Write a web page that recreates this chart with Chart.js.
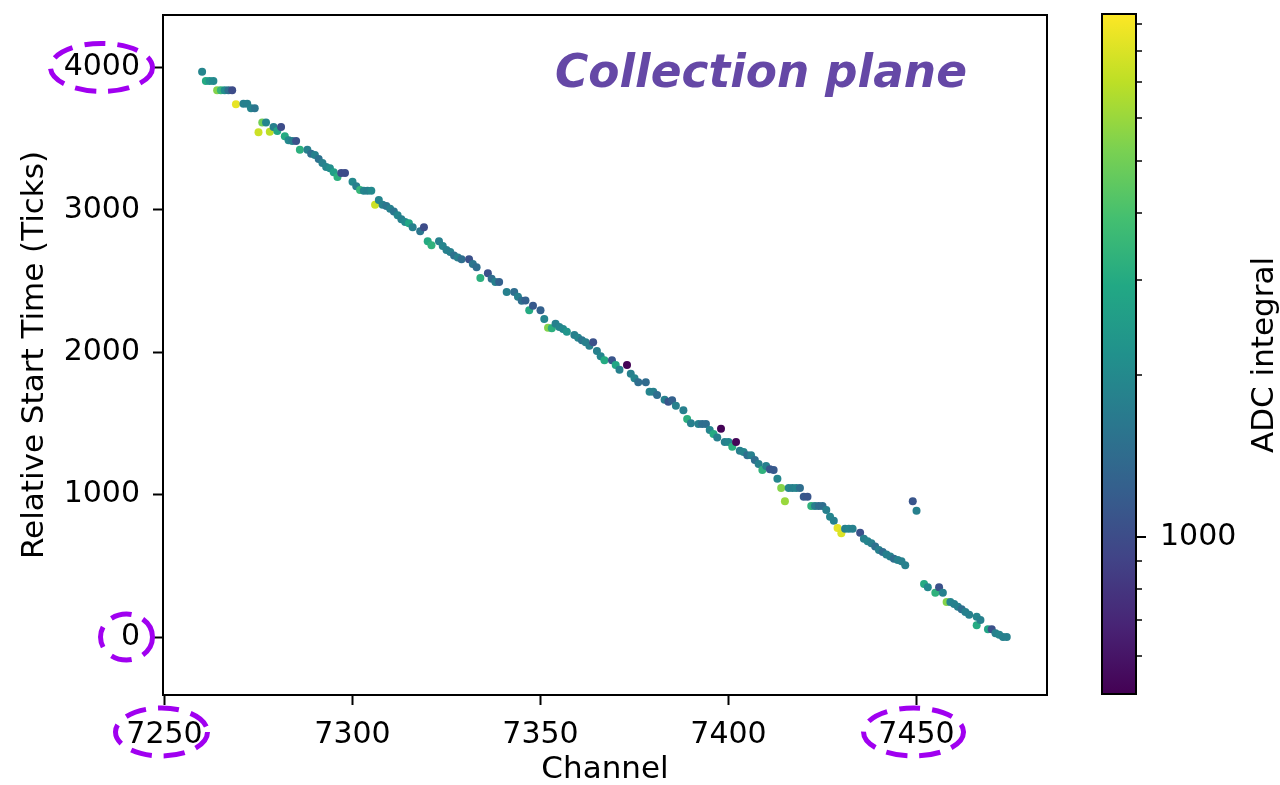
<!DOCTYPE html>
<html><head><meta charset="utf-8">
<script src="https://cdn.jsdelivr.net/npm/chart.js@4.4.1/dist/chart.umd.min.js"></script>
<style>
html,body{margin:0;padding:0;background:#fff;}
#wrap{position:relative;width:1280px;height:785px;overflow:hidden;background:#fff;}
#main{position:absolute;left:0;top:0;}
#cbar{position:absolute;left:1050px;top:0;}
</style></head><body>
<div id="wrap"><canvas id="main" width="1280" height="785"></canvas><canvas id="cbar" width="230" height="785"></canvas></div>
<script>
// ---------------- data ----------------
const channels = [7260,7261,7262,7263,7264,7265,7266,7267,7268,7269,7271,7272,7273,7274,7275,7276,7277,7278,7279,7280,
7281,7282,7283,7284,7285,7286,7288,7289,7290,7291,7292,7293,7294,7295,7296,7297,7298,7300,7301,7302,
7303,7304,7305,7306,7307,7308,7309,7310,7311,7312,7313,7314,7315,7316,7318,7319,7320,7321,7323,7324,
7325,7326,7327,7328,7329,7331,7332,7333,7334,7336,7337,7338,7339,7341,7343,7344,7345,7346,7347,7348,
7350,7351,7352,7353,7354,7355,7356,7357,7359,7360,7361,7362,7363,7364,7365,7366,7367,7369,7370,7371,
7373,7374,7375,7376,7378,7379,7380,7381,7383,7384,7385,7386,7388,7389,7390,7392,7393,7394,7395,7396,
7397,7398,7399,7400,7401,7402,7403,7404,7405,7406,7407,7408,7409,7410,7411,7412,7413,7414,7415,7416,
7417,7418,7419,7420,7421,7422,7423,7424,7425,7426,7427,7428,7429,7430,7431,7432,7433,7435,7436,7437,
7438,7439,7440,7441,7442,7443,7444,7445,7446,7447,7449,7450,7452,7453,7455,7456,7457,7458,7459,7460,
7461,7462,7463,7464,7466,7466,7467,7469,7470,7471,7472,7473,7474];
const startTimes = [3970,3905,3905,3905,3840,3840,3840,3840,3840,3741,3745,3745,3713,3713,3544,3614,3614,3549,3581,3553,
3581,3516,3488,3483,3483,3422,3422,3394,3385,3357,3329,3301,3291,3263,3230,3258,3258,3197,3165,3139,
3134,3134,3134,3036,3069,3036,3027,3008,2989,2961,2933,2914,2905,2877,2849,2877,2779,2751,2779,2746,
2718,2704,2680,2666,2652,2652,2619,2596,2521,2554,2516,2493,2493,2423,2423,2390,2362,2364,2294,2327,
2294,2233,2172,2168,2200,2177,2163,2144,2121,2102,2084,2070,2046,2070,2008,1971,1943,1943,1910,1877,
1910,1849,1817,1789,1789,1723,1723,1699,1666,1652,1662,1624,1592,1531,1501,1496,1496,1496,1454,1426,
1402,1463,1369,1369,1336,1369,1308,1299,1276,1276,1243,1215,1173,1201,1178,1173,1112,1046,953,1046,
1046,1046,1046,985,985,920,920,920,920,892,845,817,765,728,761,761,761,733,691,672,
658,635,611,597,579,565,550,541,532,504,953,887,372,349,311,349,311,246,246,232,
213,195,176,157,143,82,119,54,54,26,16,0,0];
const adcIntegral = [1900,3000,2300,2000,5500,3500,2100,1450,1000,8500,1800,1800,1900,1600,7500,5000,1900,7000,1800,2800,
1000,3000,2000,1800,1050,3200,1800,1450,1800,1500,1800,1900,2100,2600,3200,1000,1000,2000,1800,3500,
1900,1800,2000,7500,1900,1800,1600,1800,1600,1900,1800,2000,2800,1800,1600,1000,3000,3300,1800,1900,
1800,1800,1500,1800,1450,1050,1600,1450,3200,1050,1450,1800,1250,1800,1450,1800,1450,1250,3000,1150,
1250,1900,5500,3200,1800,1900,2000,2300,1800,1900,1600,1800,1800,1050,1800,1900,3000,1100,2800,1800,
520,1800,1900,1450,1400,1900,1800,1450,1800,1100,1250,1800,1800,3200,1800,1800,1450,1450,1900,3000,
1800,520,1800,1900,3200,530,1800,1900,1450,1800,1450,1800,3300,1800,1100,1150,1900,5500,6000,1900,
1800,1900,1450,1150,1100,3300,1800,1450,1450,1800,1900,1800,8500,8000,1800,1900,1800,1050,1800,1900,
1800,1500,1800,1450,1800,1800,1450,1800,1800,1800,1100,1800,3000,2000,3300,1050,1800,5500,1900,1800,
1800,1450,1800,1800,1900,3000,1800,2800,1050,1800,1900,1800,1800];
const xTickValues = [7250, 7300, 7350, 7400, 7450];
const yTickValues = [0, 1000, 2000, 3000, 4000];
const cbarMajorTicks = [1000];
const cbarMinorTicks = [600, 700, 800, 900, 2000, 3000, 4000, 5000, 6000, 7000, 8000, 9000];
const adcMin = 510, adcMax = 9380;
const titleText = 'Collection plane';
const xTitle = 'Channel';
const yTitle = 'Relative Start Time (Ticks)';
const cbarTitle = 'ADC integral';

// ---------------- colours ----------------
const VIRIDIS = [[68,1,84],[72,36,117],[65,68,135],[53,95,141],[42,120,142],[33,145,140],[34,168,132],[68,191,112],[122,209,81],[189,223,38],[253,231,37]];
function viridis(f){
  f = Math.max(0, Math.min(1, f));
  const p = f * 10, i = Math.min(9, Math.floor(p)), t = p - i;
  const a = VIRIDIS[i], b = VIRIDIS[i+1];
  return 'rgb(' + [0,1,2].map(k => Math.round(a[k] + (b[k]-a[k])*t)).join(',') + ')';
}
function adcColor(v){
  return viridis((Math.log(v) - Math.log(adcMin)) / (Math.log(adcMax) - Math.log(adcMin)));
}

const FONT = 'DejaVu Sans';
const ANNOT = '#a000f0';

const framePlugin = {
  id: 'frame',
  afterDraw(chart){
    const {ctx, chartArea: a} = chart;
    ctx.save();
    ctx.strokeStyle = '#000'; ctx.lineWidth = 2;
    ctx.strokeRect(a.left, a.top, a.right - a.left, a.bottom - a.top);
    ctx.restore();
  }
};

const annotPlugin = {
  id: 'annot',
  afterDraw(chart){
    const {ctx} = chart;
    const xs = chart.scales.x, ys = chart.scales.y;
    const ells = [
      [101.5, ys.getPixelForValue(4000), 51, 24],
      [126.5, ys.getPixelForValue(0), 26, 23],
      [xs.getPixelForValue(7250) - 3, 732, 46, 24],
      [xs.getPixelForValue(7450) - 3, 732, 50, 24]
    ];
    ctx.save();
    ctx.strokeStyle = ANNOT; ctx.lineWidth = 5;
    ctx.setLineDash([21, 12]);
    ells.forEach(e => { ctx.beginPath(); ctx.ellipse(e[0], e[1], e[2], e[3], 0, 0, Math.PI*2); ctx.stroke(); });
    ctx.restore();
    // title
    ctx.save();
    const size = 46;
    ctx.font = 'italic bold ' + size + 'px "DejaVu Sans", sans-serif';
    const w = ctx.measureText(titleText).width;
    ctx.fillStyle = '#6548a6';
    ctx.textBaseline = 'alphabetic';
    ctx.textAlign = 'left';
    ctx.translate(555, 87);
    ctx.scale(412 / w, 1);
    ctx.fillText(titleText, 0, 0);
    ctx.restore();
  }
};

new Chart(document.getElementById('main'), {
  type: 'scatter',
  data: { datasets: [{
    data: channels.map((c, i) => ({x: c, y: startTimes[i]})),
    pointRadius: 4, pointHoverRadius: 4, pointBorderWidth: 0,
    pointBackgroundColor: adcIntegral.map(adcColor)
  }]},
  options: {
    responsive: false, animation: false, devicePixelRatio: 1, events: [],
    layout: {padding: {left: 0, right: 233, top: 15, bottom: 0}},
    plugins: {legend: {display: false}, tooltip: {enabled: false}},
    scales: {
      x: {
        type: 'linear', min: 7249.6, max: 7484.7,
        afterFit: s => { s.height = 90; s.paddingLeft = 0; s.paddingRight = 0; },
        afterBuildTicks: s => { s.ticks = xTickValues.map(v => ({value: v})); },
        grid: {display: true, drawOnChartArea: false, drawTicks: true, tickLength: 10, tickWidth: 2, tickColor: '#000'},
        border: {display: true, color: '#000', width: 2},
        ticks: {color: '#000', font: {family: FONT, size: 30}, padding: 12, maxRotation: 0, autoSkip: false, callback: v => String(v)},
        title: {display: true, text: xTitle, color: '#000', font: {family: FONT, size: 31, lineHeight: 1}, padding: {top: 0, bottom: 0}}
      },
      y: {
        type: 'linear', min: -407, max: 4368,
        afterFit: s => { s.width = 163; s.paddingTop = 0; s.paddingBottom = 0; },
        afterBuildTicks: s => { s.ticks = yTickValues.map(v => ({value: v})); },
        grid: {display: true, drawOnChartArea: false, drawTicks: true, tickLength: 10, tickWidth: 2, tickColor: '#000'},
        border: {display: true, color: '#000', width: 2},
        ticks: {color: '#000', font: {family: FONT, size: 30}, padding: 13, autoSkip: false, callback: v => String(v)},
        title: {display: true, text: yTitle, color: '#000', font: {family: FONT, size: 31, lineHeight: 1}, padding: {top: 19, bottom: 0}}
      }
    }
  },
  plugins: [framePlugin, annotPlugin]
});

// ---------------- colour bar ----------------
const cbarPlugin = {
  id: 'cbarTicks',
  afterDraw(chart){
    const {ctx, chartArea: a} = chart;
    const ys = chart.scales.y;
    ctx.save();
    ctx.strokeStyle = '#000'; ctx.lineWidth = 2;
    cbarMajorTicks.forEach(v => { const p = Math.round(ys.getPixelForValue(v)); ctx.beginPath(); ctx.moveTo(a.right, p); ctx.lineTo(a.right + 10, p); ctx.stroke(); });
    ctx.lineWidth = 1.5;
    cbarMinorTicks.forEach(v => { const p = Math.round(ys.getPixelForValue(v)); ctx.beginPath(); ctx.moveTo(a.right, p); ctx.lineTo(a.right + 6, p); ctx.stroke(); });
    ctx.lineWidth = 2;
    ctx.strokeRect(a.left, a.top, a.right - a.left, a.bottom - a.top);
    ctx.fillStyle = '#000';
    ctx.font = '31px "' + FONT + '"';
    ctx.textAlign = 'center'; ctx.textBaseline = 'middle';
    ctx.translate(215, 355); ctx.rotate(-Math.PI / 2);
    ctx.fillText(cbarTitle, 0, 0);
    ctx.restore();
  }
};

new Chart(document.getElementById('cbar'), {
  type: 'bar',
  data: { labels: [''], datasets: [{
    data: [[adcMin, adcMax]],
    barPercentage: 1, categoryPercentage: 1, borderWidth: 0,
    backgroundColor: (c) => {
      const area = c.chart.chartArea;
      if (!area) return '#2a788e';
      const g = c.chart.ctx.createLinearGradient(0, area.bottom, 0, area.top);
      for (let k = 0; k <= 10; k++) g.addColorStop(k / 10, viridis(k / 10));
      return g;
    }
  }]},
  options: {
    responsive: false, animation: false, devicePixelRatio: 1, events: [],
    layout: {padding: {left: 52, right: 0, top: 14, bottom: 91}},
    plugins: {legend: {display: false}, tooltip: {enabled: false}},
    scales: {
      x: {type: 'category', display: false},
      y: {
        type: 'logarithmic', position: 'right', min: adcMin, max: adcMax,
        afterFit: s => { s.width = 144; s.paddingTop = 0; s.paddingBottom = 0; },
        afterBuildTicks: s => { s.ticks = cbarMajorTicks.concat(cbarMinorTicks).sort((a,b)=>a-b).map(v => ({value: v})); },
        grid: {display: true, drawOnChartArea: false, drawTicks: true, tickLength: 10, tickColor: 'rgba(0,0,0,0)'},
        border: {display: false},
        ticks: {color: '#000', font: {family: FONT, size: 30}, padding: 14, autoSkip: false,
          callback: v => cbarMajorTicks.includes(v) ? String(v) : ''}
      }
    }
  },
  plugins: [cbarPlugin]
});
</script>
</body></html>
